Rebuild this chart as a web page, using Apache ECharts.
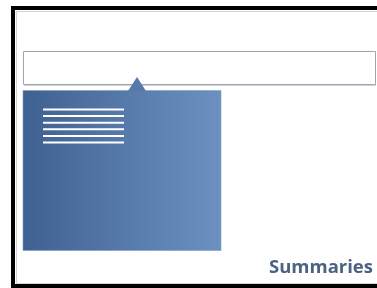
<!DOCTYPE html>
<html>
<head>
<meta charset="utf-8">
<script src="https://cdn.jsdelivr.net/npm/echarts@6/dist/echarts.min.js"></script>
<style>
  html, body { margin: 0; padding: 0; background: #fff; overflow: hidden; }
  #chart { width: 377px; height: 288px; }
</style>
</head>
<body>
<div id="chart"></div>
<script>
// summary icon: a search-like box, a callout panel with text rows, and a caption
const caption = 'Summaries'
const textRows = ['row1', 'row2', 'row3', 'row4', 'row5', 'row6']

const panelGradient = new echarts.graphic.LinearGradient(0, 0, 1, 0, [
  { offset: 0, color: '#3f6192' },
  { offset: 1, color: '#6c91c1' }
])

const rows = textRows.map((r, i) => ({
  type: 'rect',
  shape: { x: 43, y: 108.5 + i * 6.6, width: 81, height: 2 },
  style: { fill: '#ffffff' }
}))

const option = {
  backgroundColor: '#fff',
  animation: false,
  graphic: [
    // outer frame: left, top and bottom edges only
    { type: 'line', shape: { x1: 16.5, y1: 11, x2: 16.5, y2: 284 }, style: { stroke: '#d4d4d4', lineWidth: 1 } },
    { type: 'line', shape: { x1: 16, y1: 11.5, x2: 377, y2: 11.5 }, style: { stroke: '#d4d4d4', lineWidth: 1 } },
    { type: 'line', shape: { x1: 16, y1: 283.5, x2: 377, y2: 283.5 }, style: { stroke: '#d4d4d4', lineWidth: 1 } },
    { type: 'rect', shape: { x: 11, y: 6, width: 4, height: 282 }, style: { fill: '#000' } },
    { type: 'rect', shape: { x: 11, y: 6, width: 366, height: 4 }, style: { fill: '#000' } },
    { type: 'rect', shape: { x: 11, y: 284, width: 366, height: 4 }, style: { fill: '#000' } },
    // input box
    { type: 'rect', shape: { x: 23.5, y: 51.5, width: 352, height: 33 }, style: { fill: '#fff', stroke: '#9ea6b2', lineWidth: 1 } },
    { type: 'line', shape: { x1: 24, y1: 85.5, x2: 376, y2: 85.5 }, style: { stroke: '#cdd1d8', lineWidth: 1 } },
    // callout panel
    { type: 'rect', shape: { x: 23, y: 90.5, width: 198, height: 160 }, style: { fill: panelGradient, stroke: '#7d9cc6', lineWidth: 0.6 } },
    { type: 'polygon', shape: { points: [[137, 77], [128, 91], [146, 91]] }, style: { fill: '#5479aa' } },
    ...rows,
    // caption
    {
      type: 'text', right: 4, top: 258,
      style: { text: caption, fill: '#4b6282', font: 'bold 18.5px "Open Sans"', textAlign: 'right' }
    }
  ]
}

const myChart = echarts.init(document.getElementById('chart'))
myChart.setOption(option)
</script>
</body>
</html>
